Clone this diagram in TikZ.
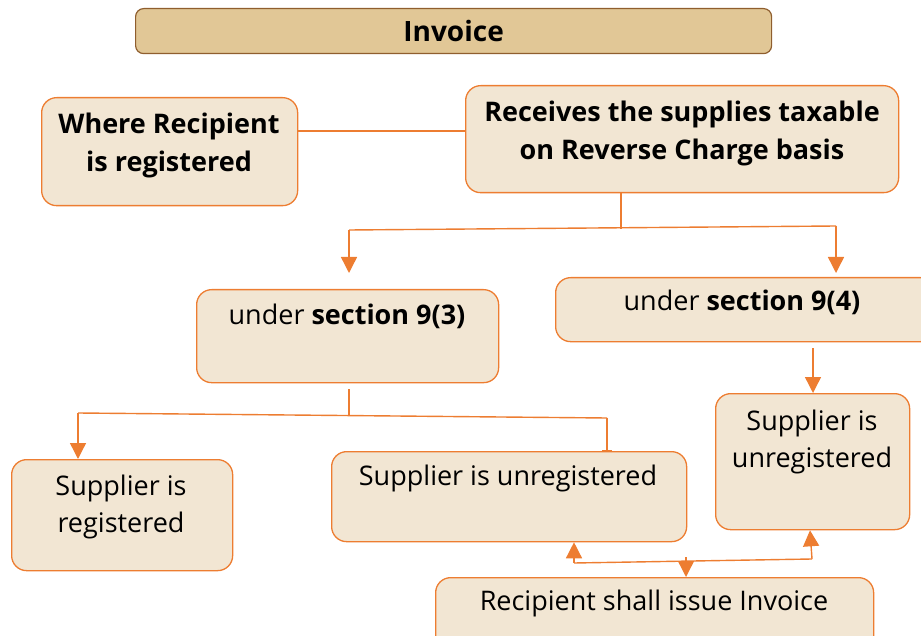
\documentclass[tikz,border=0pt]{standalone}
\usepackage{fontspec}
\setmainfont{Open Sans}
\usetikzlibrary{arrows.meta,calc}
\definecolor{org}{HTML}{ED7D31}
\definecolor{lightfill}{HTML}{F2E6D3}
\definecolor{tan}{HTML}{E1C796}
\definecolor{brn}{HTML}{8F5E2E}
\tikzset{
  box/.style={draw=org, fill=lightfill, line width=1.3pt, rounded corners=15pt, anchor=north west, inner sep=0pt},
  lbl/.style={font=\fontsize{27}{37}\selectfont, align=center, inner sep=0pt},
  blbl/.style={font=\fontsize{27}{38}\selectfont\bfseries, align=center, inner sep=0pt},
  conn/.style={draw=org, line width=1.4pt},
  arr/.style={conn, -{Triangle[width=16pt,length=16pt]}},
  tbar/.style={conn, -{Bar[width=10pt]}}
}
\begin{document}
\begin{tikzpicture}[x=1pt,y=-1pt]
\useasboundingbox (0,0) rectangle (921,636);
% top title
\node[draw=brn, fill=tan, line width=1.2pt, rounded corners=8pt, anchor=north west, minimum width=636pt, minimum height=45pt, inner sep=0pt,
      font=\fontsize{28}{32}\selectfont\bfseries] (inv) at (135,8) {Invoice};
% boxes
\node[box, minimum width=256pt, minimum height=108pt] (where) at (41,97) {};
\node[blbl] (wheret) at (169,145) {Where Recipient\\is registered};
\node[box, minimum width=433pt, minimum height=107pt] (recv) at (465,85) {};
\node[blbl] (recvt) at (682,133) {Receives the supplies taxable\\on Reverse Charge basis};
\node[box, minimum width=302pt, minimum height=93pt] (s93) at (196,289) {};
\node[lbl] (s93t) at (347,316) {under \textbf{section 9(3)}};
\node[box, minimum width=380pt, minimum height=64pt] (s94) at (555,277) {};
\node[lbl] (s94t) at (742,302) {under \textbf{section 9(4)}};
\node[box, minimum width=194pt, minimum height=136pt] (unr) at (715,393) {};
\node[lbl] (unrt) at (812,442) {Supplier is\\unregistered};
\node[box, minimum width=221pt, minimum height=111pt] (reg) at (11,459) {};
\node[lbl] (regt) at (121,507) {Supplier is\\registered};
\node[box, minimum width=355pt, minimum height=90pt] (unm) at (331,451) {};
\node[lbl] (unmt) at (508,478) {Supplier is unregistered};
\node[box, minimum width=438pt, minimum height=80pt] (rsi) at (435,577) {};
\node[lbl] (rsit) at (654,603) {Recipient shall issue Invoice};
% connectors
\draw[conn] (where.east |- 0,131) -- (recv.west |- 0,131);
\coordinate (j1) at (621,229);
\coordinate (jl) at (349,230);
\coordinate (jr) at (836,226);
\draw[conn] (recv.south -| j1) -- (j1);
\draw[conn] (jl) -- (jr);
\draw[arr] (jl) -- (349,273);
\draw[arr] (jr) -- (836,273);
\draw[arr] (813,348) -- (unr.north -| 813,0);
\coordinate (j2) at (349,416);
\coordinate (j2l) at (78,413);
\coordinate (j2r) at (607,418);
\draw[conn] (s93.south -| j2) ++(0,6) -- (j2);
\draw[conn] (j2l) -- (j2r);
\draw[arr] (j2l) -- (reg.north -| j2l);
\draw[tbar] (j2r) -- (unm.north -| j2r);
\coordinate (j3) at (686,561);
\coordinate (j3l) at (574,563);
\coordinate (j3r) at (812,559);
\draw[arr] (686,557) -- (rsi.north -| j3);
\draw[conn] (j3l) -- (j3r);
\draw[arr] (j3l) -- (unm.south -| j3l);
\draw[arr] (j3r) -- (unr.south -| 810,0);
\end{tikzpicture}
\end{document}
